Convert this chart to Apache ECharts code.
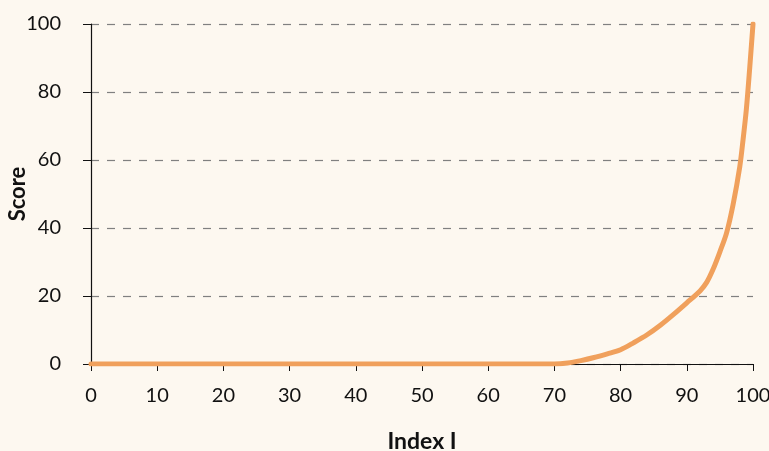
<!DOCTYPE html>
<html><head><meta charset="utf-8">
<script src="https://cdn.jsdelivr.net/npm/echarts@6/dist/echarts.min.js"></script>
<style>html,body{margin:0;padding:0;background:#fdf8f0}#c{width:769px;height:451px}</style>
</head><body><div id="c"></div>
<script>
const xValues = [0, 10, 20, 30, 40, 50, 60, 70, 72, 74, 76, 78, 80, 82, 84, 86, 88, 90, 92, 93, 94, 95, 96, 97, 98, 98.5, 99, 99.5, 100];
const scores  = [0, 0, 0, 0, 0, 0, 0, 0, 0.3, 1, 1.9, 3, 4.2, 6.3, 8.6, 11.4, 14.6, 18, 21.5, 24, 28, 33, 38.5, 47, 58, 66, 75, 87, 100];
const xTicks = [0, 10, 20, 30, 40, 50, 60, 70, 80, 90, 100];
const yTicks = [0, 20, 40, 60, 80, 100];

const font = 'Lato';
const chart = echarts.init(document.getElementById('c'), null, {renderer: 'canvas'});
chart.setOption({
  backgroundColor: '#fdf8f0',
  animation: false,
  grid: {left: 91, right: 16, top: 24, bottom: 87, containLabel: false, outerBoundsMode: 'none'},
  xAxis: {
    type: 'value', min: xTicks[0], max: xTicks[xTicks.length - 1], interval: 10,
    name: 'Index I', nameLocation: 'middle', nameGap: 66, nameMoveOverlap: false,
    nameTextStyle: {fontFamily: font, fontWeight: 'bold', fontSize: 23, color: '#111'},
    axisLine: {show: true, lineStyle: {color: '#111', width: 1.2}},
    axisTick: {show: true, length: 7, lineStyle: {color: '#111'}},
    axisLabel: {margin: 22, fontFamily: font, fontSize: 20, color: '#111'},
    splitLine: {show: false}
  },
  yAxis: {
    type: 'value', min: yTicks[0], max: yTicks[yTicks.length - 1], interval: 20,
    name: 'Score', nameLocation: 'middle', nameGap: 62, nameRotate: 90, nameMoveOverlap: false,
    nameTextStyle: {fontFamily: font, fontWeight: 'bold', fontSize: 22, color: '#111'},
    axisLine: {show: true, lineStyle: {color: '#111', width: 1.2}},
    axisTick: {show: true, length: 8, lineStyle: {color: '#111'}},
    axisLabel: {margin: 30, fontFamily: font, fontSize: 20, color: '#111'},
    splitLine: {show: true, lineStyle: {color: '#808080', type: [8, 8], width: 1.2}}
  },
  series: [{
    type: 'line', smooth: 0.3, symbol: 'none',
    data: xValues.map((x, i) => [x, scores[i]]),
    lineStyle: {color: '#f0a05c', width: 5, cap: 'round'},
    z: 5
  }]
});
</script></body></html>
